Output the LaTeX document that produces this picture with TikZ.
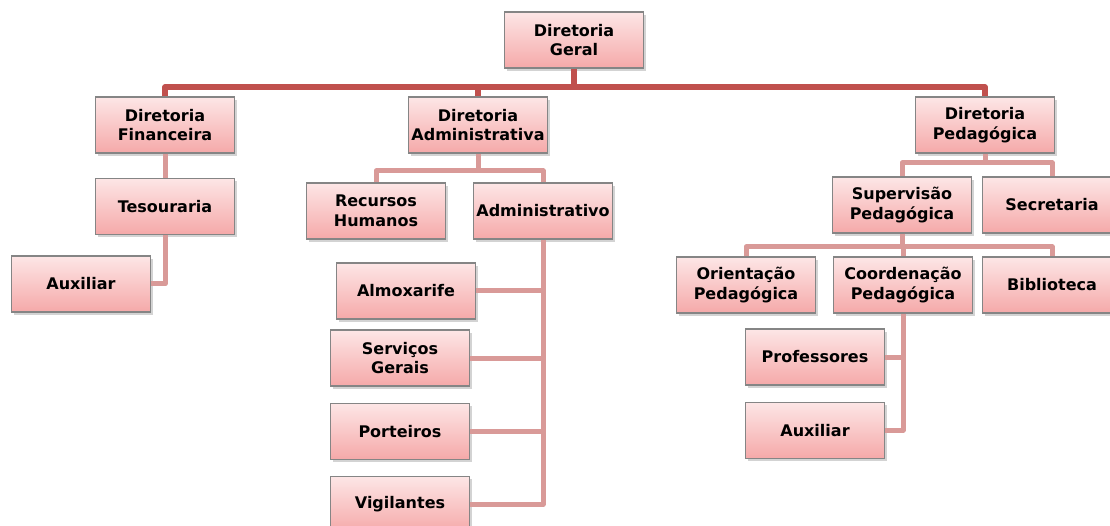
\documentclass[tikz,border=0pt]{standalone}
\usepackage{fontspec}
\setmainfont{DejaVu Sans}
\usepackage{xcolor}
\definecolor{boxTop}{HTML}{FDE6E6}
\definecolor{boxBottom}{HTML}{F5A9A9}
\definecolor{boxEdge}{HTML}{858585}
\definecolor{lineDark}{HTML}{C0504D}
\definecolor{lineLight}{HTML}{D99A98}
\usepackage{tikz}
\usetikzlibrary{positioning, shadows}

\begin{document}
\begin{tikzpicture}[
		x=1pt, y=-1pt,
		node distance=24pt,
		box/.style={
			draw=boxEdge,
			line width=1.2pt,
			top color=boxTop,
			bottom color=boxBottom,
			drop shadow={opacity=0.35, shadow xshift=2pt, shadow yshift=-3pt},
			minimum width=139pt,
			minimum height=56pt,
			inner sep=1pt,
			align=center,
			font=\bfseries\fontsize{16}{19.5}\selectfont
		},
		linkdark/.style={draw=lineDark, line width=5.5pt, line join=round},
		link/.style={draw=lineLight, line width=5pt, line join=round}
		]
		\useasboundingbox (0,0) rectangle (1110,526);
		
		% topo
		\node[box] (geral) at (574,40) {Diretoria\\Geral};
		
		% diretorias
		\node[box] (fin) at (165,125) {Diretoria\\Financeira};
		\node[box] (adm) at (478,125) {Diretoria\\Administrativa};
		\node[box] (ped) at (985,125) {Diretoria\\Pedagógica};
		
		% financeira
		\node[box, below=of fin] (tes) {Tesouraria};
		\node[box] (auxfin) at (81,284) {Auxiliar};
		
		% administrativa
		\node[box] (rh) at (376,211) {Recursos\\Humanos};
		\node[box] (admv) at (543,211) {Administrativo};
		\node[box] (almox) at (406,291) {Almoxarife};
		\node[box] (serv) at (400,358) {Serviços\\Gerais};
		\node[box, below=16pt of serv] (port) {Porteiros};
		\node[box, below=16pt of port] (vig) {Vigilantes};
		
		% pedagogica
		\node[box] (sup) at (902,205) {Supervisão\\Pedagógica};
		\node[box] (sec) at (1052,205) {Secretaria};
		\node[box] (ori) at (746,285) {Orientação\\Pedagógica};
		\node[box] (coord) at (903,285) {Coordenação\\Pedagógica};
		\node[box] (bib) at (1052,285) {Biblioteca};
		\node[box] (prof) at (815,357) {Professores};
		\node[box, below=16pt of prof] (auxped) {Auxiliar};
		
		% ligacoes
		\coordinate (busG) at (574,87);
		\draw[linkdark] (geral.south) -- (busG);
		\draw[linkdark] (fin.north) |- (busG) -| (ped.north);
		\draw[linkdark] (adm.north) -- (adm.north |- busG);
		
		\draw[link] (fin.south) -- (tes.north);
		\draw[link] (tes.south) |- (auxfin.east);
		
		\coordinate (busA) at (478,171);
		\draw[link] (adm.south) -- (busA);
		\draw[link] (rh.north) |- (busA) -| (admv.north);
		\draw[link] (admv.south) |- (vig.east);
		\draw[link] (almox.east) -- (almox.east -| admv.south);
		\draw[link] (serv.east) -- (serv.east -| admv.south);
		\draw[link] (port.east) -- (port.east -| admv.south);
		
		\coordinate (busP) at (985,163);
		\draw[link] (ped.south) -- (busP);
		\draw[link] (sup.north) |- (busP) -| (sec.north);
		
		\coordinate (busS) at (902,247);
		\draw[link] (sup.south) -- (busS);
		\draw[link] (ori.north) |- (busS) -| (bib.north);
		\draw[link] (coord.north) -- (coord.north |- busS);
		\draw[link] (coord.south) |- (auxped.east);
		\draw[link] (prof.east) -- (prof.east -| coord.south);
		
	\end{tikzpicture}
\end{document}
